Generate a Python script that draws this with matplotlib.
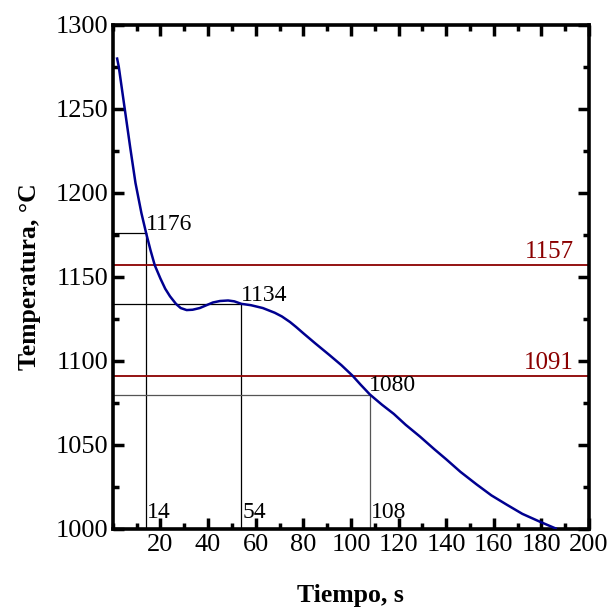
import matplotlib
matplotlib.use("Agg")
import matplotlib.pyplot as plt
from matplotlib.ticker import MultipleLocator

plt.rcParams['font.family'] = ['Liberation Serif', 'DejaVu Serif']

# cooling curve (time s, temperature °C)
time_s = [1.8, 2.5, 5.0, 7.3, 9.5, 12.0, 14.0, 15.8, 17.6, 20.0, 22.0, 24.0, 26.5,
          28.5, 31.0, 33.5, 36.5, 39.0, 42.0, 45.0, 48.4, 51.0, 54.0, 58.0, 63.0,
          68.0, 71.0, 74.4, 77.0, 80.0, 85.0, 91.0, 96.0, 100.7, 104.0, 108.0,
          113.0, 118.0, 123.0, 129.0, 135.0, 140.0, 146.0, 152.8, 159.0, 165.4,
          172.0, 179.4, 186.0]
temp_c = [1280, 1275, 1250, 1227, 1206, 1188, 1176, 1166, 1157, 1149, 1143, 1138.5,
          1134, 1131.5, 1130.3, 1130.5, 1131.5, 1133, 1134.8, 1135.7, 1136, 1135.5,
          1134, 1133.2, 1131.5, 1128.7, 1126.5, 1123.2, 1120.2, 1116.5, 1110.5,
          1103.5, 1097.5, 1091.2, 1086, 1080, 1074, 1068.5, 1062, 1055, 1047.5,
          1041.5, 1034, 1026.5, 1020, 1014.5, 1009, 1004.3, 1000.3]

# reference temperatures (red lines)
ref_temps = [1157, 1091]
# marked points (time, temperature)
mark_times = [14, 54, 108]
mark_temps = [1176, 1134, 1080]
mark_colors = ['black', 'black', '#555555']

fig = plt.figure(figsize=(6.10, 6.09), dpi=100)
ax = fig.add_axes([0.185, 0.1314, 0.7806, 0.8276])

for t, T, c in zip(mark_times, mark_temps, mark_colors):
    ax.plot([0, t], [T, T], color=c, lw=0.9, zorder=2)
    ax.plot([t, t], [1000, T], color=c, lw=0.9, zorder=2)
    ax.text(t - 0.3, T - 1.0, str(T), ha='left', va='bottom', fontsize=17, color='black')
    ax.text(t + 0.3, 1003.5, str(t), ha='left', va='bottom', fontsize=17, color='black')

for T in ref_temps:
    ax.axhline(T, color='#8B0000', lw=1.3, zorder=2)
    ax.text(193.5, T + 1.2, str(T), ha='right', va='bottom', fontsize=18, color='#8B0000')

ax.plot(time_s, temp_c, color='#000090', lw=1.8, zorder=3)

ax.set_xlim(0, 200)
ax.set_ylim(1000, 1300)
ax.set_xticks(list(range(20, 201, 20)))
ax.xaxis.set_minor_locator(MultipleLocator(10))
ax.yaxis.set_major_locator(MultipleLocator(50))
ax.yaxis.set_minor_locator(MultipleLocator(25))
ax.tick_params(which='both', direction='in', top=True, right=True, width=2.5, labelsize=19)
ax.tick_params(which='major', length=8)
ax.tick_params(which='minor', length=4.5)
for s in ax.spines.values():
    s.set_linewidth(2.6)

ax.set_xlabel('Tiempo, s', fontsize=18.5, fontweight='bold', labelpad=20)
ax.set_ylabel('Temperatura, °C', fontsize=18.5, fontweight='bold', labelpad=10)

fig.savefig('out.png', dpi=100)
